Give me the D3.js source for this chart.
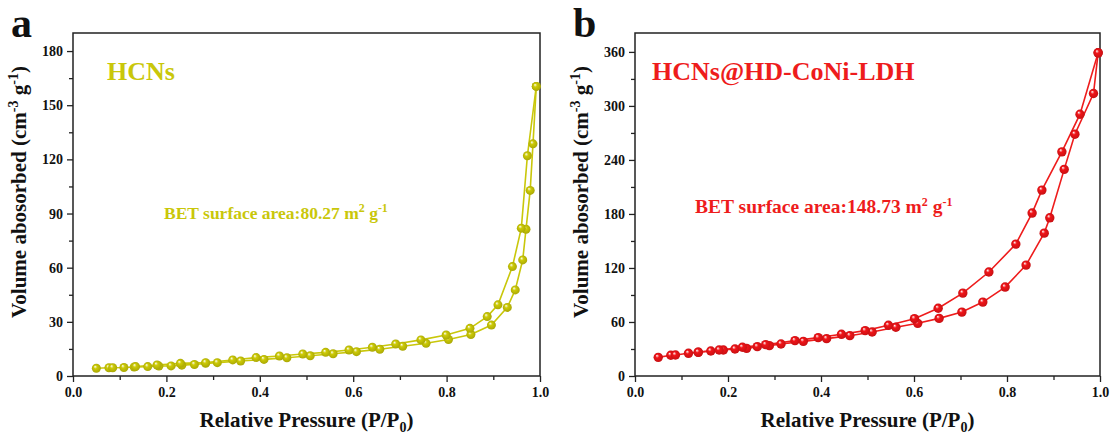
<!DOCTYPE html>
<html>
<head>
<meta charset="utf-8">
<script src="https://cdn.jsdelivr.net/npm/d3@7"></script>
<style>
  body { margin: 0; background: #fff; }
  text { font-family: "Liberation Serif", "Times New Roman", serif; font-weight: bold; }
</style>
</head>
<body>
<div id="chart"></div>
<script>
// Panel a: HCNs isotherm [P/P0, volume]
var hcnsAds = [[0.05,4.3],[0.077,4.6],[0.085,4.6],[0.109,4.7],[0.131,5.0],[0.16,5.2],[0.184,5.5],[0.21,5.6],
  [0.233,6.0],[0.26,6.4],[0.284,7.0],[0.309,7.4],[0.359,8.3],[0.409,9.2],[0.458,10.1],[0.508,11.2],
  [0.557,12.3],[0.607,13.5],[0.657,14.8],[0.706,16.5],[0.756,18.1],[0.804,20.2],[0.852,23.0],[0.896,28.2],
  [0.93,38],[0.947,47.7],[0.963,64.3],[0.97,81.3],[0.979,102.8],[0.985,128.6],[0.992,160.4]];
var hcnsDes = [[0.992,160.4],[0.973,122],[0.96,81.9],[0.941,60.6],[0.91,39.4],[0.887,32.9],[0.85,26.4],
  [0.799,22.7],[0.745,20],[0.691,17.7],[0.641,15.9],[0.591,14.4],[0.541,13.1],[0.492,12.2],[0.442,11.1],
  [0.392,10.2],[0.342,8.9],[0.284,7.4],[0.23,7.0],[0.18,6.1],[0.134,5.2]];

// Panel b: HCNs@HD-CoNi-LDH isotherm
var ldhAds = [[0.05,20.7],[0.077,23],[0.087,23.3],[0.115,25.2],[0.136,26.3],[0.163,27.8],[0.19,28.9],
  [0.215,30],[0.24,30.7],[0.263,32.6],[0.289,33.7],[0.314,35.6],[0.362,38.5],[0.412,41.5],[0.462,44.8],
  [0.51,48.9],[0.561,54.1],[0.608,58.5],[0.654,64],[0.703,71],[0.748,82.1],[0.796,98.8],[0.841,123.2],
  [0.88,158.7],[0.892,175.7],[0.923,229.5],[0.946,268.6],[0.986,313.8],[0.996,359]];
var ldhDes = [[0.996,359],[0.957,290.8],[0.918,249],[0.875,206.5],[0.854,181],[0.819,146.5],[0.761,115.5],
  [0.705,92.1],[0.652,75.2],[0.601,63.7],[0.545,56.3],[0.495,50.4],[0.444,46.3],[0.394,42.6],[0.344,39.3],
  [0.281,34.8],[0.231,31.9],[0.181,28.9],[0.136,26.5]];

var xTicks = [0, 0.2, 0.4, 0.6, 0.8, 1.0];
var yTicksA = [0, 30, 60, 90, 120, 150, 180];
var yTicksB = [0, 60, 120, 180, 240, 300, 360];

var svg = d3.select("#chart").append("svg")
  .attr("width", 1113)
  .attr("height", 437);

var defs = svg.append("defs");
function ballGradient(id, col) {
  var g = defs.append("radialGradient").attr("id", id)
    .attr("cx", "50%").attr("cy", "50%").attr("r", "55%")
    .attr("fx", "35%").attr("fy", "30%");
  g.append("stop").attr("offset", "0%").attr("stop-color", "#ffffff");
  g.append("stop").attr("offset", "35%").attr("stop-color", col);
  g.append("stop").attr("offset", "100%").attr("stop-color", d3.color(col).darker(0.6));
}
ballGradient("ballY", "#cdcb06");
ballGradient("ballR", "#f01418");

function drawPanel(opt) {
  var g = svg.append("g");
  var x = d3.scaleLinear().domain([0, 1]).range([opt.left, opt.right]);
  var y = d3.scaleLinear().domain([0, opt.yMax]).range([376, 33]);

  // minor ticks
  g.append("g").attr("transform", "translate(0,376)")
    .call(d3.axisBottom(x).tickValues(d3.range(0.1, 1, 0.2)).tickSize(4).tickFormat(""))
    .call(a => a.select(".domain").remove());
  g.append("g").attr("transform", "translate(" + opt.left + ",0)")
    .call(d3.axisLeft(y).tickValues(opt.yTicks.slice(0, -1).map(v => v + opt.yTicks[1] / 2)).tickSize(4).tickFormat(""))
    .call(a => a.select(".domain").remove());

  // major ticks
  var xa = g.append("g").attr("transform", "translate(0,376)")
    .call(d3.axisBottom(x).tickValues(xTicks).tickSize(6).tickPadding(5).tickFormat(d3.format(".1f")));
  var ya = g.append("g").attr("transform", "translate(" + opt.left + ",0)")
    .call(d3.axisLeft(y).tickValues(opt.yTicks).tickSize(6).tickPadding(4));
  [xa, ya].forEach(a => {
    a.select(".domain").remove();
    a.selectAll("text").style("font-size", "14px").attr("fill", "#111");
  });
  g.selectAll(".tick line").attr("stroke", "#222").attr("stroke-width", 1.3);

  // frame
  g.append("rect")
    .attr("x", opt.left).attr("y", 33)
    .attr("width", opt.right - opt.left).attr("height", 343)
    .attr("fill", "none").attr("stroke", "#222").attr("stroke-width", 1.5);

  var line = d3.line().x(d => x(d[0])).y(d => y(d[1]));
  [opt.ads, opt.des].forEach(s => {
    g.append("path").datum(s).attr("d", line)
      .attr("fill", "none").attr("stroke", opt.color).attr("stroke-width", 1.6);
  });
  [opt.ads, opt.des].forEach(s => {
    g.append("g").selectAll("circle").data(s).enter().append("circle")
      .attr("cx", d => x(d[0])).attr("cy", d => y(d[1]))
      .attr("r", opt.r).attr("fill", "url(#" + opt.grad + ")");
  });

  // labels
  g.append("text").attr("x", opt.left - 62).attr("y", 37)
    .style("font-size", "42px").attr("fill", "#111").text(opt.letter);
  g.append("text").attr("x", opt.nameX).attr("y", 80)
    .style("font-size", "26px").attr("fill", opt.color).text(opt.name);
  var bet = g.append("text").attr("x", opt.betX).attr("y", opt.betY)
    .style("font-size", opt.betSize + "px").attr("fill", opt.color);
  bet.append("tspan").text(opt.bet + " m");
  bet.append("tspan").attr("dy", -7).style("font-size", "12px").text("2");
  bet.append("tspan").attr("dy", 7).text(" g");
  bet.append("tspan").attr("dy", -7).style("font-size", "12px").text("-1");

  var cx = (opt.left + opt.right) / 2;
  var xt = g.append("text").attr("x", cx).attr("y", 427).attr("text-anchor", "middle")
    .style("font-size", "21px").attr("fill", "#111");
  xt.append("tspan").text("Relative Pressure (P/P");
  xt.append("tspan").attr("dy", 5).style("font-size", "14px").text("0");
  xt.append("tspan").attr("dy", -5).text(")");

  var yt = g.append("text")
    .attr("transform", "translate(" + (opt.left - 47) + ",192) rotate(-90)")
    .attr("text-anchor", "middle").style("font-size", "21px").attr("fill", "#111");
  yt.append("tspan").text("Volume abosorbed (cm");
  yt.append("tspan").attr("dy", -8).style("font-size", "14px").text("-3");
  yt.append("tspan").attr("dy", 8).text(" g");
  yt.append("tspan").attr("dy", -8).style("font-size", "14px").text("-1");
  yt.append("tspan").attr("dy", 8).text(")");
}

drawPanel({ left: 73, right: 540, yMax: 190, yTicks: yTicksA, ads: hcnsAds, des: hcnsDes,
  color: "#c9c70a", grad: "ballY", r: 4.5, letter: "a", name: "HCNs", nameX: 107,
  bet: "BET surface area:80.27", betX: 164, betY: 219, betSize: 17.5 });
drawPanel({ left: 635, right: 1100, yMax: 381, yTicks: yTicksB, ads: ldhAds, des: ldhDes,
  color: "#ee1c1c", grad: "ballR", r: 4.7, letter: "b", name: "HCNs@HD-CoNi-LDH", nameX: 652,
  bet: "BET surface area:148.73", betX: 695, betY: 213, betSize: 19.5 });
</script>
</body>
</html>
